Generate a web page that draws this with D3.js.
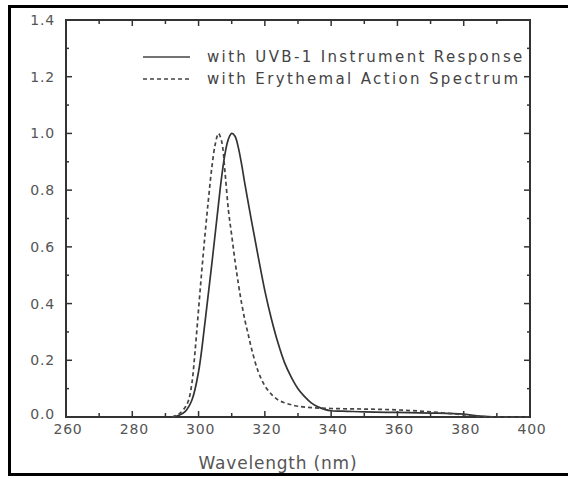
<!DOCTYPE html>
<html>
<head>
<meta charset="utf-8">
<script src="https://cdn.jsdelivr.net/npm/d3@7"></script>
<style>
  body { margin: 0; background: #fff; }
  text { font-family: "DejaVu Sans", sans-serif; fill: #555; }
</style>
</head>
<body>
<div id="chart"></div>
<script>
// Wavelength (nm) and relative response
const uvbNm  = [292, 294, 296, 298, 300, 302, 304, 306, 307, 308, 309, 310, 311, 312, 313, 314, 316, 318, 320, 322, 324, 326, 328, 330, 332, 334, 336, 338, 340, 345, 350, 360, 370, 380, 385, 390, 400]
const uvbVal = [0, 0.005, 0.02, 0.06, 0.16, 0.34, 0.54, 0.75, 0.85, 0.93, 0.98, 1.0, 0.99, 0.95, 0.89, 0.82, 0.69, 0.565, 0.445, 0.345, 0.26, 0.19, 0.14, 0.10, 0.072, 0.05, 0.036, 0.027, 0.022, 0.02, 0.018, 0.016, 0.014, 0.01, 0.003, 0, 0]

const eryNm  = [292, 294, 296, 297, 298, 299, 300, 301, 302, 303, 304, 305, 306, 307, 308, 309, 310, 311, 312, 313, 314, 315, 316, 318, 320, 322, 324, 326, 328, 330, 334, 340, 350, 360, 370, 380, 385, 390, 400]
const eryVal = [0, 0.01, 0.035, 0.06, 0.12, 0.24, 0.38, 0.52, 0.65, 0.77, 0.88, 0.96, 1.0, 0.97, 0.86, 0.73, 0.64, 0.55, 0.47, 0.40, 0.34, 0.29, 0.24, 0.16, 0.11, 0.08, 0.06, 0.05, 0.043, 0.038, 0.033, 0.03, 0.028, 0.025, 0.018, 0.008, 0.002, 0, 0]

const xTicks = [260, 280, 300, 320, 340, 360, 380, 400]
const yTicks = [0, 0.2, 0.4, 0.6, 0.8, 1.0, 1.2, 1.4]
const legendLabels = ['with UVB-1 Instrument Response', 'with Erythemal Action Spectrum']

const width = 568, height = 479
const pLeft = 66, pRight = 530, pTop = 20, pBottom = 417

const x = d3.scaleLinear().domain([260, 400]).range([pLeft, pRight])
const y = d3.scaleLinear().domain([0, 1.4]).range([pBottom, pTop])

const svg = d3.select('#chart').append('svg')
  .attr('width', width)
  .attr('height', height)

// outer frame (open on the right)
svg.append('path')
  .attr('d', `M${width},6.5 H9.5 V474.5 H${width}`)
  .attr('fill', 'none')
  .attr('stroke', '#000')
  .attr('stroke-width', 3)

const tickColor = '#333'

// ticks: every 10 nm / every 0.1, inward
const g = svg.append('g')
d3.range(260, 401, 10).forEach(v => {
  const len = v % 20 === 0 ? 6 : 4
  g.append('line').attr('x1', x(v)).attr('x2', x(v)).attr('y1', pBottom).attr('y2', pBottom - len)
  g.append('line').attr('x1', x(v)).attr('x2', x(v)).attr('y1', pTop).attr('y2', pTop + len)
})
d3.range(0, 1.41, 0.1).forEach(v => {
  const len = Math.round(v * 10) % 2 === 0 ? 6 : 3
  g.append('line').attr('y1', y(v)).attr('y2', y(v)).attr('x1', pLeft).attr('x2', pLeft + len)
  g.append('line').attr('y1', y(v)).attr('y2', y(v)).attr('x1', pRight).attr('x2', pRight - len)
})
g.selectAll('line').attr('stroke', tickColor).attr('stroke-width', 1.5)

// plot frame
svg.append('rect')
  .attr('x', pLeft).attr('y', pTop)
  .attr('width', pRight - pLeft).attr('height', pBottom - pTop)
  .attr('fill', 'none')
  .attr('stroke', tickColor)
  .attr('stroke-width', 2)

// tick labels
svg.selectAll('.xl').data(xTicks).enter().append('text')
  .attr('x', d => x(d) + 2)
  .attr('y', 434)
  .attr('text-anchor', 'middle')
  .attr('font-size', 14)
  .attr('letter-spacing', 0.8)
  .text(d => d)

svg.selectAll('.yl').data(yTicks).enter().append('text')
  .attr('x', 55)
  .attr('y', d => y(d) + (d === 0 ? 2 : 5))
  .attr('text-anchor', 'end')
  .attr('font-size', 14)
  .attr('letter-spacing', 0.8)
  .text(d => d.toFixed(1))

svg.append('text')
  .attr('x', 278).attr('y', 469)
  .attr('text-anchor', 'middle')
  .attr('font-size', 17)
  .attr('letter-spacing', 0.8)
  .text('Wavelength (nm)')

const line = d3.line()
  .x(d => x(d[0]))
  .y(d => y(d[1]))
  .curve(d3.curveCatmullRom.alpha(0.5))

svg.append('path')
  .datum(d3.zip(uvbNm, uvbVal))
  .attr('d', line)
  .attr('fill', 'none')
  .attr('stroke', '#333')
  .attr('stroke-width', 1.7)

svg.append('path')
  .datum(d3.zip(eryNm, eryVal))
  .attr('d', line)
  .attr('fill', 'none')
  .attr('stroke', '#444')
  .attr('stroke-width', 1.7)
  .attr('stroke-dasharray', '4,3')

// legend
const leg = svg.append('g')
legendLabels.forEach((t, i) => {
  const ly = 57 + i * 22
  leg.append('line')
    .attr('x1', 143).attr('x2', 190).attr('y1', ly).attr('y2', ly)
    .attr('stroke', '#444').attr('stroke-width', 1.6)
    .attr('stroke-dasharray', i === 1 ? '4,3' : null)
  leg.append('text')
    .attr('x', 207).attr('y', ly + 5)
    .attr('font-size', 15)
    .attr('letter-spacing', 2.35)
    .style('fill', '#444')
    .text(t)
})
</script>
</body>
</html>
